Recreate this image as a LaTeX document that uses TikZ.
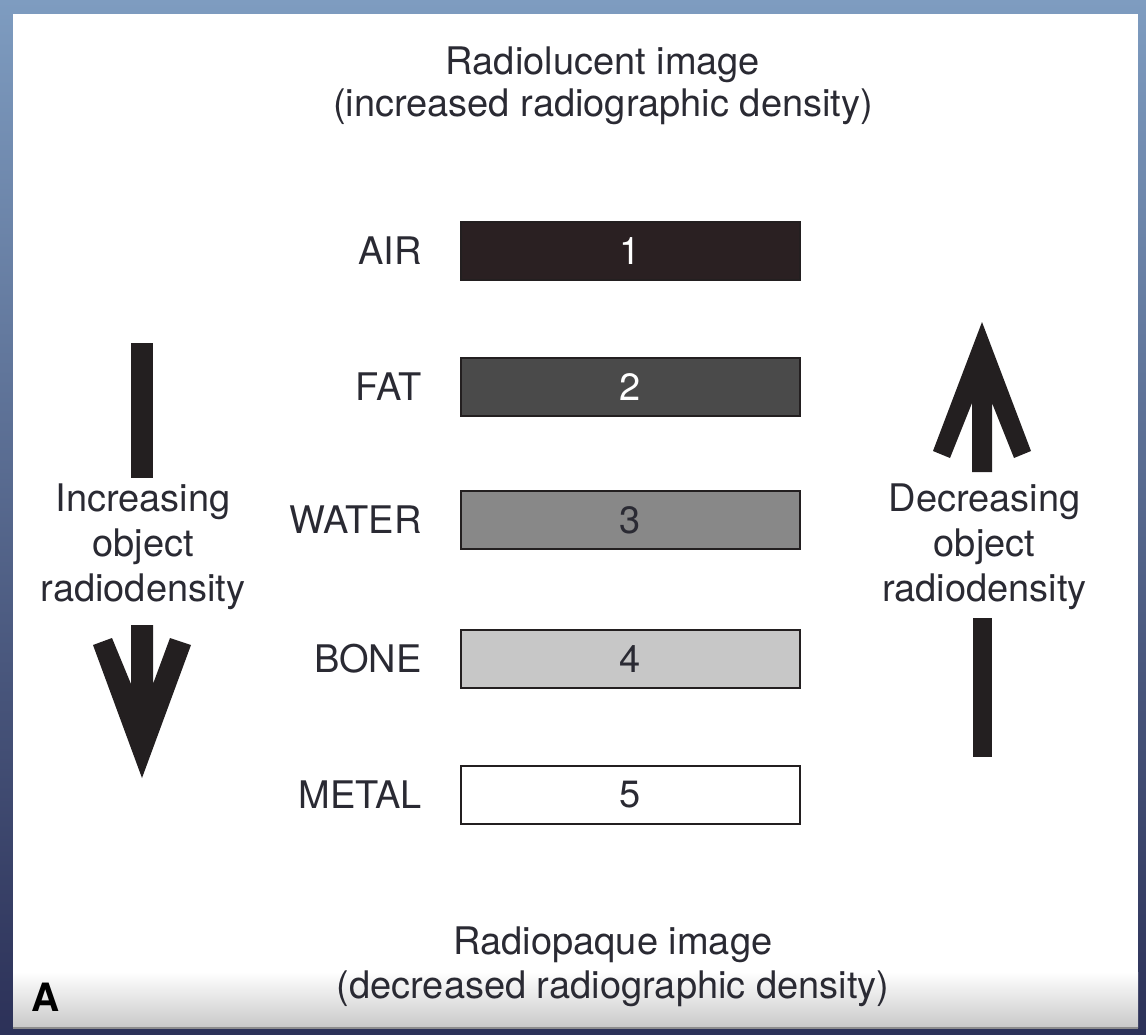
\documentclass[tikz,border=0pt]{standalone}
\usepackage{fontspec}
\setmainfont{TeX Gyre Heros}
\usetikzlibrary{positioning}
\definecolor{frameTop}{HTML}{7E9CC0}
\definecolor{frameBot}{HTML}{2C3158}
\definecolor{inkDark}{HTML}{231F20}
\definecolor{txtDark}{HTML}{2A2A33}
\definecolor{barAir}{HTML}{2A2022}
\definecolor{barFat}{HTML}{4A4A4A}
\definecolor{barWater}{HTML}{888888}
\definecolor{barBone}{HTML}{C7C7C7}
\begin{document}
\begin{tikzpicture}[
    x=1pt, y=-1pt,
    font=\fontsize{38}{42}\selectfont,
    every node/.style={inner sep=0pt, text=txtDark},
    densbar/.style={
        draw=inkDark,
        line width=2.6pt,
        minimum width=339pt,
        minimum height=58pt,
        inner sep=0pt
    },
    matlabel/.style={anchor=east},
    caption/.style={align=center},
    sidecap/.style={align=center, font=\fontsize{38}{45}\selectfont},
    bigarrow/.style={fill=inkDark}
]

% frame and page
\useasboundingbox (0,0) rectangle (1146,1034);
\shade[top color=frameTop, bottom color=frameBot] (0,0) rectangle (1146,1034);
\fill[white] (13,14) rectangle (1138,1028);
\shade[top color=white, bottom color=black!21] (13,972) rectangle (1138,1027);
\fill[black!45] (13,1027) rectangle (1138,1029);

\node[caption] (top_cap) at (603,86)
{Radiolucent image\\(increased radiographic density)};

\node[caption, font=\fontsize{38}{44}\selectfont] (bot_cap) at (613,967)
{Radiopaque image\\(decreased radiographic density)};

% density bars
\node[densbar, fill=barAir, text=white] (air_bar) at (630.5,251) {1};
\node[matlabel, left=38pt of air_bar] (air_lbl) {AIR};

\node[densbar, fill=barFat, text=white] (fat_bar) at (630.5,387) {2};
\node[matlabel, left=38pt of fat_bar] (fat_lbl) {FAT};

\node[densbar, fill=barWater] (water_bar) at (630.5,520) {3};
\node[matlabel, left=38pt of water_bar] (water_lbl) {WATER};

\node[densbar, fill=barBone] (bone_bar) at (630.5,659) {4};
\node[matlabel, left=38pt of bone_bar] (bone_lbl) {BONE};

\node[densbar, fill=white] (metal_bar) at (630.5,795) {5};
\node[matlabel, left=38pt of metal_bar] (metal_lbl) {METAL};

% side captions
\node[sidecap] (inc_cap) at (143,547)
{Increasing\\object\\radiodensity};

\node[sidecap] (dec_cap) at (984.5,547)
{Decreasing\\object\\radiodensity};

% down arrow (left)
\fill[bigarrow] (131,343) rectangle (153,478);
\fill[bigarrow] (131,625) -- (131,684) -- (112,638) -- (93,645) -- (142,778)
    -- (191,645) -- (170,638) -- (153,684) -- (153,625) -- cycle;

% up arrow (right)
\fill[bigarrow] (972,472) -- (972,403) -- (950,458) -- (933,451) -- (982,322)
    -- (1031,451) -- (1014,458) -- (992,403) -- (992,472) -- cycle;
\fill[bigarrow] (973,618) rectangle (992,757);

\node[font=\fontsize{39}{44}\selectfont\bfseries, text=black] (panel_lbl) at (46,997) {A};

\end{tikzpicture}
\end{document}
